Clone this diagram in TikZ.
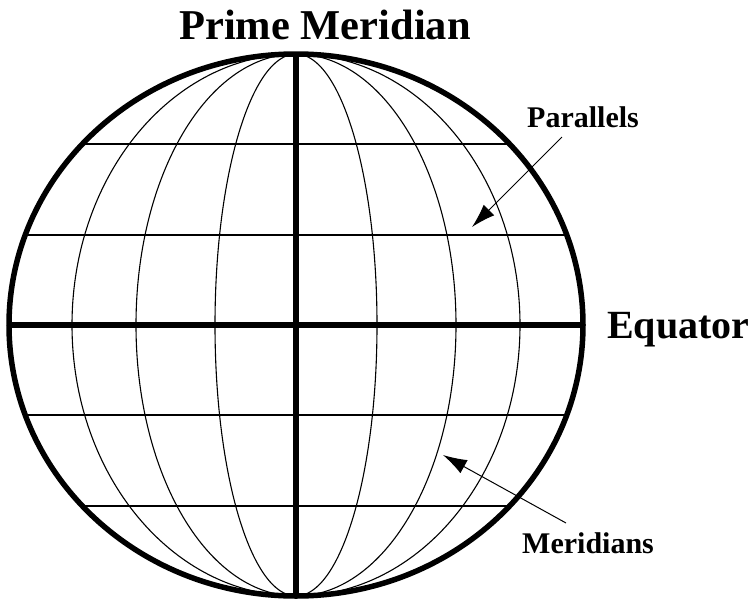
\documentclass[tikz,border=0pt]{standalone}
\usepackage{fontspec}
\setmainfont{Liberation Serif}
\usetikzlibrary{arrows.meta}
\tikzset{
  thinline/.style={line width=1.1pt},
  thickline/.style={line width=6.5pt},
  rimline/.style={line width=5.5pt},
  bigtext/.style={inner sep=0pt, font=\fontsize{40}{40}\selectfont\bfseries},
  titletext/.style={inner sep=0pt, font=\fontsize{42.5}{42.5}\selectfont\bfseries},
  smalltext/.style={inner sep=0pt, font=\fontsize{30}{30}\selectfont\bfseries},
  pointer/.style={line width=1pt, -{Latex[length=24pt,width=15pt]}}
}
\begin{document}
\begin{tikzpicture}[x=1pt,y=-1pt]
\useasboundingbox (0,0) rectangle (756,598);
\coordinate (c) at (296,325);
% thin meridians
\foreach \r in {81,160,224} {
  \draw[thinline] (c) ellipse [x radius=\r, y radius=271];
}
% parallels
\begin{scope}
  \clip (c) ellipse [x radius=287, y radius=271];
  \foreach \yy in {144,235,415,506} {
    \draw[thinline] (0,\yy) -- (600,\yy);
  }
\end{scope}
% prime meridian and equator
\coordinate (top) at (296,54);
\coordinate (bot) at (296,596);
\coordinate (lft) at (9,325);
\coordinate (rgt) at (583,325);
\draw[thickline] (top) -- (bot);
\draw[thickline] (lft) -- (rgt);
% rim
\draw[rimline] (c) ellipse [x radius=287, y radius=271];
% labels
\node[titletext, anchor=base] (pm) at (325,39) {Prime Meridian};
\node[bigtext, anchor=base west] (eq) at (607,338) {Equator};
\node[smalltext, anchor=base west] (par) at (527,127) {Parallels};
\node[smalltext, anchor=base west] (mer) at (522,553) {Meridians};
% arrows
\coordinate (pars) at (562,137);
\coordinate (part) at (472,227);
\coordinate (mers) at (566,523);
\coordinate (mert) at (443,455);
\draw[pointer] (pars) -- (part);
\draw[pointer] (mers) -- (mert);
\end{tikzpicture}
\end{document}
